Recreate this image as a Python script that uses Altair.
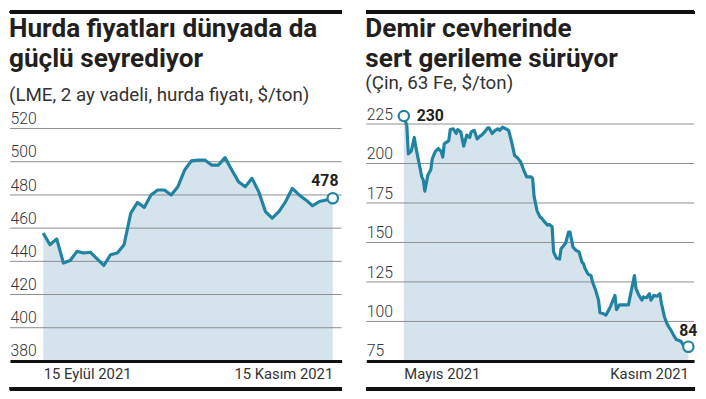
import altair as alt
import pandas as pd

# ---------------- data: left panel (LME scrap, $/ton) ----------------
scrap_day = list(range(44))
scrap_price = [457, 450, 453.5, 439, 440.5, 446, 445, 445.5, 441.5, 437.5,
               444, 445, 450, 469, 475.5, 472.5, 480, 483, 483, 480,
               485, 495, 500.5, 501, 501, 498, 498, 502.5, 495, 488,
               485, 490, 482, 470, 466, 470, 476, 484, 480, 477,
               473.5, 476, 477, 478]
scrap_yticks = [380, 400, 420, 440, 460, 480, 500, 520]
scrap_xticks = [0, 43]
scrap_xlabels = ["15 Eylül 2021", "15 Kasım 2021"]
scrap_title = ["Hurda fiyatları dünyada da", "güçlü seyrediyor"]
scrap_subtitle = "(LME, 2 ay vadeli, hurda fiyatı, $/ton)"

# ---------------- data: right panel (iron ore, China 63 Fe) ----------------
ore_day = [0, 2, 3, 5, 7, 8, 10, 12, 13, 14, 16, 18, 19, 21, 23, 25, 26, 27, 30, 31,
           33, 35, 36, 38, 40, 42, 44, 45, 47, 49, 51, 52, 54, 56, 57, 59, 61, 63, 64, 66,
           68, 70, 72, 74, 76, 78, 80, 82, 85, 86, 87, 89, 91, 92, 94, 96, 97, 99, 100, 102,
           104, 105, 108, 110, 111, 113, 115, 117, 119, 120, 121, 123, 125, 126, 128, 130, 131, 133, 135, 137,
           138, 141, 142, 144, 146, 148, 150, 152, 154, 155, 157, 159, 160, 162, 164, 165, 167, 169, 171, 172,
           174, 176, 178, 180, 182, 185, 187, 190]
ore_price = [230, 224, 206, 208, 216.5, 210.5, 201, 191.5, 189.5, 182.5, 192.5, 196, 203, 207.5, 209.5, 207.5, 204, 212.5, 214.5, 221.5,
             222, 219, 221.5, 220, 211, 218, 216.5, 220, 221, 215.5, 217.5, 218, 220, 222.5, 222.5, 219, 221, 222, 221, 223,
             222, 221, 213.5, 205, 203.5, 201, 196, 191.5, 191.5, 190.5, 179, 170, 166, 165.5, 163, 161, 161.5, 160, 144, 140,
             139.5, 146, 149.5, 156.5, 156.5, 147, 145, 144, 137.5, 136.5, 133.5, 130, 129, 125, 120, 113.5, 105.5, 105, 104, 107.5,
             109.5, 116.5, 107.5, 110.5, 110.5, 110.5, 110.5, 120, 129, 121, 116.5, 113.5, 115.5, 115, 117.5, 113.5, 116.5, 116, 117.5, 111.5,
             103, 98, 95, 91.5, 88.5, 87.5, 84.5, 84]
ore_yticks = [75, 100, 125, 150, 175, 200, 225]
ore_xticks = [0, 190]
ore_xlabels = ["Mayıs 2021", "Kasım 2021"]
ore_title = ["Demir cevherinde", "sert gerileme sürüyor"]
ore_subtitle = "(Çin, 63 Fe, $/ton)"

# ---------------- styling ----------------
LINE = "#2183a1"
FILL = "#d5e3ed"
GRID = "#8c8c8c"
INK = "#231f20"
TITLE_FONT = "Liberation Sans Narrow, Roboto"
BODY_FONT = "Roboto"


def panel(x, v, xdom, ydom, yticks, xticks, xlabels, title, subtitle, sub_y,
          W, H, ann_rows, ann_dx, ann_dy, ann_align, ann_baseline):
    df = pd.DataFrame({"x": x, "v": v})
    lbl_expr = f"datum.value == {xticks[0]} ? '{xlabels[0]}' : '{xlabels[1]}'"
    xscale = alt.Scale(domain=xdom, nice=False, zero=False)
    yscale = alt.Scale(domain=ydom, nice=False, zero=False)
    xaxis = alt.Axis(
        values=xticks, labelExpr=lbl_expr, title=None, grid=False, ticks=False,
        tickSize=0, domain=True, domainColor="#111111", domainWidth=3,
        labelPadding=6, labelFontSize=15, labelColor="#333333", labelFont=BODY_FONT,
        labelAlign={"condition": {"test": f"datum.value == {xticks[0]}", "value": "left"},
                    "value": "right"},
        labelFlush=False, labelOverlap=False, zindex=1,
    )
    yaxis = alt.Axis(
        values=yticks, title=None, grid=False, domain=False, ticks=False, tickSize=0,
        labelAlign="left", labelBaseline="alphabetic", labelOffset=-5, labelPadding=0,
        minExtent=0, labelFontSize=16, labelFontWeight=300, labelColor="#333333",
        labelFont=BODY_FONT, labelOverlap=False,
    )
    xenc = alt.X("x:Q", scale=xscale, axis=xaxis)
    yenc = alt.Y("v:Q", scale=yscale, axis=yaxis)
    base = alt.Chart(df)
    area = base.mark_area(color=FILL).encode(x=xenc, y=yenc, y2=alt.datum(ydom[0]))
    grid = alt.Chart(pd.DataFrame({"v": yticks[1:]})).mark_rule(
        color=GRID, strokeWidth=1
    ).encode(y=yenc, x=alt.value(0), x2=alt.value(W))
    line = base.mark_line(color=LINE, strokeWidth=3.2, strokeJoin="round").encode(x=xenc, y=yenc)
    ann_df = df.iloc[ann_rows]
    pt = alt.Chart(ann_df).mark_point(
        shape="circle", size=110, filled=True, fill="white", stroke=LINE, strokeWidth=2.2, opacity=1
    ).encode(x=xenc, y=yenc)
    layers = [area, grid, line, pt]
    for i, r in enumerate(ann_rows):
        one = df.iloc[[r]]
        layers.append(alt.Chart(one).mark_text(
            font=BODY_FONT, fontSize=16, fontWeight="bold", color=INK, align=ann_align[i],
            baseline=ann_baseline[i], dx=ann_dx[i], dy=ann_dy[i]
        ).encode(x=xenc, y=yenc, text=alt.Text("v:Q", format=".0f")))
    ttl = alt.Chart(pd.DataFrame({"t": ["\n".join(title)]})).mark_text(
        font=TITLE_FONT, fontSize=26.5, fontWeight="bold", color=INK, align="left",
        baseline="alphabetic", lineBreak="\n", lineHeight=30
    ).encode(x=alt.value(-1), y=alt.value(-79.7), text="t:N")
    sub = alt.Chart(pd.DataFrame({"t": [subtitle]})).mark_text(
        font=TITLE_FONT, fontSize=19, fontWeight="normal", color="#333333", align="left",
        baseline="alphabetic"
    ).encode(x=alt.value(-1), y=alt.value(sub_y), text="t:N")
    top_rule = alt.Chart(df).mark_rule(color="#111111", strokeWidth=3).encode(
        x=alt.value(0), x2=alt.value(W), y=alt.value(-105.2))
    bot_rule = alt.Chart(df).mark_rule(color="#111111", strokeWidth=4).encode(
        x=alt.value(0), x2=alt.value(W), y=alt.value(H + 28.3))
    layers += [ttl, sub, top_rule, bot_rule]
    return alt.layer(*layers).properties(width=W, height=H)


left = panel(scrap_day, scrap_price, [-4.94, 44.32], [380, 527.5], scrap_yticks,
             scrap_xticks, scrap_xlabels, scrap_title, scrap_subtitle, -15.2,
             336, 248, [len(scrap_price) - 1], [-8], [-12], ["center"], ["alphabetic"])
right = panel(ore_day, ore_price, [-25.04, 193.8], [75, 230], ore_yticks,
              ore_xticks, ore_xlabels, ore_title, ore_subtitle, -27.4,
              332, 248, [0, len(ore_price) - 1], [13, 0], [0, -11],
              ["left", "center"], ["middle", "alphabetic"])

chart = alt.hconcat(left, right, spacing=21).properties(padding=0).configure_view(stroke=None)

chart.save("out.html", embed_options={"renderer": "svg", "actions": False})
